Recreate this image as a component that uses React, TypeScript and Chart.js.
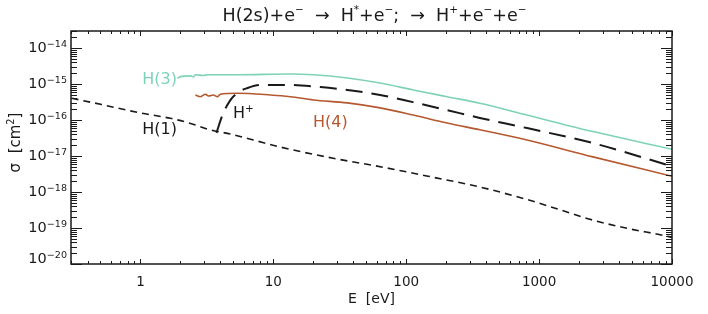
import React, { useEffect, useRef } from "react";
import { Chart, registerables } from "chart.js";

Chart.register(...registerables);

// ---- data (E in eV, sigma in cm^2) ----
const h1E = [0.303, 0.5, 1.0, 1.68, 2.38, 3.19, 4.75, 7.07, 11.3, 28.2, 67, 160, 358, 850, 1440, 2540, 4590, 8500, 10000];
const h1Sigma = [4.07e-16, 2.75e-16, 1.58e-16, 1.12e-16, 8.1e-17, 5.6e-17, 4.1e-17, 2.8e-17, 1.78e-17, 8.7e-18, 4.9e-18, 2.57e-18, 1.38e-18, 5.9e-19, 3.2e-19, 1.66e-19, 9.8e-20, 6.3e-20, 5.5e-20];

const hpE = [3.73, 4.14, 4.75, 5.46, 6.38, 7.97, 12.7, 22.6, 36, 63.6, 112, 202, 358, 811, 2540, 10000];
const hpSigma = [4.4e-17, 1.38e-16, 3.6e-16, 6.0e-16, 7.8e-16, 9.5e-16, 9.5e-16, 8.3e-16, 6.9e-16, 5.0e-16, 3.16e-16, 1.9e-16, 1.15e-16, 6.0e-17, 2.3e-17, 5.2e-18];

const h3E = [1.9, 2.0, 2.38, 2.5, 2.59, 2.97, 3.19, 5.36, 13.4, 20, 36, 63.6, 113, 203, 358, 811, 2540, 10000];
const h3Sigma = [1.45e-15, 1.62e-15, 1.7e-15, 1.58e-15, 1.82e-15, 1.74e-15, 1.82e-15, 1.82e-15, 1.91e-15, 1.82e-15, 1.48e-15, 1.07e-15, 6.9e-16, 4.47e-16, 2.95e-16, 1.38e-16, 4.8e-17, 1.55e-17];

const h4E = [2.59, 2.83, 3.08, 3.25, 3.54, 3.79, 3.99, 5.36, 9.51, 13.4, 20, 36, 63.6, 113, 203, 358, 811, 2540, 10000];
const h4Sigma = [5.0e-16, 4.47e-16, 5.25e-16, 4.68e-16, 5.0e-16, 4.47e-16, 5.25e-16, 5.6e-16, 5.0e-16, 4.47e-16, 3.63e-16, 3.02e-16, 2.19e-16, 1.38e-16, 8.3e-17, 5.4e-17, 2.8e-17, 9.5e-18, 2.75e-18];

const xTickValues = [1, 10, 100, 1000, 10000];
const yTickExponents = [-20, -19, -18, -17, -16, -15, -14];

const FONT = '"DejaVu Sans", "Liberation Sans", sans-serif';
const TEAL = "#7fd2b9";
const BROWN = "#b5582f";
const INK = "#1a1a1a";

type Seg = { t: string; sup?: boolean };

function drawRich(
  ctx: CanvasRenderingContext2D,
  segs: Seg[],
  x: number,
  y: number,
  size: number,
  align: "left" | "center" | "right",
  color: string,
  supScale = 0.65,
  raise = 0.32
) {
  const supSize = size * supScale;
  let total = 0;
  const widths = segs.map((s) => {
    ctx.font = `${s.sup ? supSize : size}px ${FONT}`;
    const w = ctx.measureText(s.t).width;
    total += w;
    return w;
  });
  let cx = align === "left" ? x : align === "center" ? x - total / 2 : x - total;
  ctx.fillStyle = color;
  ctx.textAlign = "left";
  ctx.textBaseline = "middle";
  segs.forEach((s, i) => {
    ctx.font = `${s.sup ? supSize : size}px ${FONT}`;
    ctx.fillText(s.t, cx, s.sup ? y - size * raise : y);
    cx += widths[i];
  });
}

const framePlugin = {
  id: "idlFrame",
  afterDraw(chart: any) {
    const ctx: CanvasRenderingContext2D = chart.ctx;
    const ca = chart.chartArea;
    const xs = chart.scales.x;
    const ys = chart.scales.y;
    ctx.save();
    ctx.strokeStyle = INK;
    ctx.lineWidth = 1.5;
    ctx.strokeRect(ca.left, ca.top, ca.right - ca.left, ca.bottom - ca.top);

    // y ticks (inside, both sides)
    ctx.lineWidth = 1;
    for (let e = -21; e <= -13; e++) {
      for (let k = 1; k <= 9; k++) {
        const v = k * Math.pow(10, e);
        if (v < ys.min * 0.999 || v > ys.max * 1.001) continue;
        const py = Math.round(ys.getPixelForValue(v)) + 0.5;
        const len = k === 1 ? 11 : 6;
        ctx.beginPath();
        ctx.moveTo(ca.left, py);
        ctx.lineTo(ca.left + len, py);
        ctx.moveTo(ca.right, py);
        ctx.lineTo(ca.right - len, py);
        ctx.stroke();
      }
    }
    // x ticks (inside, top and bottom)
    for (let e = -1; e <= 4; e++) {
      for (let k = 1; k <= 9; k++) {
        const v = k * Math.pow(10, e);
        if (v < xs.min * 0.999 || v > xs.max * 1.001) continue;
        const px = Math.round(xs.getPixelForValue(v)) + 0.5;
        const len = k === 1 ? 5 : 3;
        ctx.beginPath();
        ctx.moveTo(px, ca.bottom);
        ctx.lineTo(px, ca.bottom - len);
        ctx.moveTo(px, ca.top);
        ctx.lineTo(px, ca.top + len);
        ctx.stroke();
      }
    }

    // y tick labels
    yTickExponents.forEach((e) => {
      let py = ys.getPixelForValue(Math.pow(10, e));
      if (e === -20) py -= 5;
      drawRich(ctx, [{ t: "10" }, { t: "\u2212" + String(-e), sup: true }], ca.left - 4, py, 14.5, "right", INK, 0.66, 0.27);
    });

    // title
    drawRich(
      ctx,
      [
        { t: "H(2s)+e" }, { t: "\u2212", sup: true },
        { t: "  \u2192  H" }, { t: "*", sup: true },
        { t: "+e" }, { t: "\u2212", sup: true },
        { t: ";  \u2192  H" }, { t: "+", sup: true },
        { t: "+e" }, { t: "\u2212", sup: true },
        { t: "+e" }, { t: "\u2212", sup: true },
      ],
      (ca.left + ca.right) / 2 + 3,
      16,
      17.5,
      "center",
      INK,
      0.6,
      0.3
    );

    // x title
    drawRich(ctx, [{ t: "E  [eV]" }], (ca.left + ca.right) / 2, 299, 14, "center", INK);

    // y title (rotated)
    ctx.save();
    ctx.translate(16, (ca.top + ca.bottom) / 2 - 5);
    ctx.rotate(-Math.PI / 2);
    drawRich(ctx, [{ t: "\u03c3  [cm" }, { t: "2", sup: true }, { t: "]" }], 0, 0, 15, "center", INK);
    ctx.restore();

    // curve labels
    drawRich(ctx, [{ t: "H(3)" }], 177, 80, 16, "right", TEAL);
    drawRich(ctx, [{ t: "H(1)" }], 177, 130, 16, "right", INK);
    drawRich(ctx, [{ t: "H" }, { t: "+", sup: true }], 233, 114, 16, "left", INK);
    drawRich(ctx, [{ t: "H(4)" }], 313, 123, 16, "left", BROWN);

    ctx.restore();
  },
};

function pts(xs: number[], ys: number[]) {
  return xs.map((x, i) => ({ x, y: ys[i] }));
}

export default function App() {
  const ref = useRef<HTMLCanvasElement | null>(null);
  useEffect(() => {
    if (!ref.current) return;
    const smooth = { pointRadius: 0, cubicInterpolationMode: "monotone" as const };
    const chart = new Chart(ref.current, {
      type: "line",
      data: {
        datasets: [
          { label: "H(1)", data: pts(h1E, h1Sigma), borderColor: INK, borderWidth: 1.6, borderDash: [7, 5], ...smooth },
          { label: "H(3)", data: pts(h3E, h3Sigma), borderColor: TEAL, borderWidth: 1.6, ...smooth },
          { label: "H(4)", data: pts(h4E, h4Sigma), borderColor: BROWN, borderWidth: 1.6, ...smooth },
          { label: "H+", data: pts(hpE, hpSigma), borderColor: INK, borderWidth: 2, borderDash: [17, 9], ...smooth },
        ],
      },
      options: {
        animation: false,
        responsive: false,
        maintainAspectRatio: false,
        layout: { padding: { top: 31, right: 36, left: 0, bottom: 0 } },
        plugins: { legend: { display: false }, tooltip: { enabled: false }, title: { display: false } },
        scales: {
          x: {
            type: "logarithmic",
            min: 0.3,
            max: 10000,
            grid: { display: false, drawTicks: false },
            border: { display: false },
            afterBuildTicks: (scale: any) => {
              scale.ticks = xTickValues.map((v) => ({ value: v }));
            },
            afterFit: (scale: any) => {
              scale.height = 50;
            },
            ticks: {
              padding: 10,
              maxRotation: 0,
              autoSkip: false,
              color: INK,
              font: { family: FONT, size: 13.5 },
              callback: (v: any) => String(v),
            },
          },
          y: {
            type: "logarithmic",
            min: 1e-20,
            max: 3e-14,
            grid: { display: false, drawTicks: false },
            border: { display: false },
            ticks: { display: false },
            afterFit: (scale: any) => {
              scale.width = 71;
            },
          },
        },
      },
      plugins: [framePlugin],
    });
    return () => chart.destroy();
  }, []);
  return (
    <div style={{ position: "fixed", left: 0, top: 0, width: 708, height: 314, background: "#fff" }}>
      <canvas ref={ref} width={708} height={314} style={{ width: 708, height: 314 }} />
    </div>
  );
}
